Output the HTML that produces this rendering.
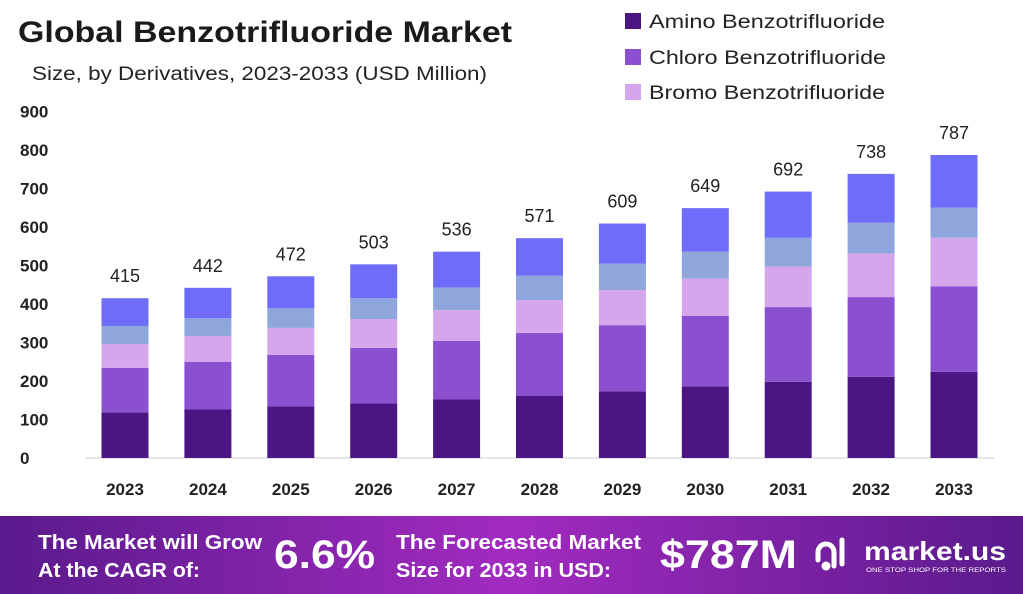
<!DOCTYPE html>
<html><head><meta charset="utf-8"><style>
body{margin:0;width:1023px;height:594px;overflow:hidden;background:#fff;font-family:"Liberation Sans",sans-serif}
</style></head><body>
<svg id="c" width="1023" height="594" style="position:absolute;left:0;top:0">
<defs><linearGradient id="bg" x1="0" x2="1" y1="0" y2="0"><stop offset="0" stop-color="#5a1a8c"/><stop offset="0.5" stop-color="#a22bc0"/><stop offset="1" stop-color="#5a1a8c"/></linearGradient></defs>
<text x="18" y="42" font-size="30" font-weight="bold" fill="#1a1a1a" textLength="494" lengthAdjust="spacingAndGlyphs">Global Benzotrifluoride Market</text>
<text x="32" y="80" font-size="19" fill="#222" textLength="455" lengthAdjust="spacingAndGlyphs">Size, by Derivatives, 2023-2033 (USD Million)</text>
<g>
<rect x="625" y="13" width="16" height="16" fill="#4b1584"/><text x="649" y="28" font-size="19" fill="#222" textLength="236" lengthAdjust="spacingAndGlyphs">Amino Benzotrifluoride</text>
<rect x="625" y="49" width="16" height="16" fill="#8b50d0"/><text x="649" y="64" font-size="19" fill="#222" textLength="237" lengthAdjust="spacingAndGlyphs">Chloro Benzotrifluoride</text>
<rect x="625" y="84" width="16" height="16" fill="#d6a6ec"/><text x="649" y="99" font-size="19" fill="#222" textLength="236" lengthAdjust="spacingAndGlyphs">Bromo Benzotrifluoride</text>
</g>
<g id="plot"></g>
<rect x="0" y="516" width="1023" height="78" fill="url(#bg)"/>
<text x="38" y="549" font-size="20" font-weight="bold" fill="#fff" textLength="224" lengthAdjust="spacingAndGlyphs">The Market will Grow</text>
<text x="38" y="577" font-size="20" font-weight="bold" fill="#fff" textLength="162" lengthAdjust="spacingAndGlyphs">At the CAGR of:</text>
<text x="274" y="568" font-size="40" font-weight="bold" fill="#fff" textLength="101" lengthAdjust="spacingAndGlyphs">6.6%</text>
<text x="396" y="549" font-size="20" font-weight="bold" fill="#fff" textLength="245" lengthAdjust="spacingAndGlyphs">The Forecasted Market</text>
<text x="396" y="577" font-size="20" font-weight="bold" fill="#fff" textLength="215" lengthAdjust="spacingAndGlyphs">Size for 2033 in USD:</text>
<text x="660" y="568" font-size="40" font-weight="bold" fill="#fff" textLength="137" lengthAdjust="spacingAndGlyphs">$787M</text>
<g fill="none" stroke="#fff" stroke-width="5" stroke-linecap="round">
<path d="M818 560 v-8 a8 8 0 0 1 16 0 v14 M842 540 v24"/><circle cx="826" cy="566" r="2" fill="#fff"/>
</g>
<text x="864" y="560" font-size="26" font-weight="bold" fill="#fff" textLength="142" lengthAdjust="spacingAndGlyphs">market.us</text>
<text x="866" y="572" font-size="6" fill="#fff" textLength="140" lengthAdjust="spacingAndGlyphs">ONE STOP SHOP FOR THE REPORTS</text>
</svg>
<script>
const years=["2023","2024","2025","2026","2027","2028","2029","2030","2031","2032","2033"];
const totals=[415,442,472,503,536,571,609,649,692,738,787];
const amino=[118,126,134,142,152,162,173,186,198,211,224];
const chloro=[116,124,134,144,152,163,172,183,194,207,222];
const bromo=[62,67,70,75,80,85,91,97,105,113,126];
const seg4=[47,46,51,54,59,64,69,70,75,80,78];
const yTicks=[0,100,200,300,400,500,600,700,800,900];
const colors=["#4b1584","#8b50d0","#d6a6ec","#8ea6dc","#6e6cf8"];
const ns="http://www.w3.org/2000/svg",g=document.getElementById("plot");
const y0=458,pp=0.385;
function Y(v){return y0-v*pp}
function X(i){return 125+i*82.9}
function el(t,a){const e=document.createElementNS(ns,t);for(const k in a)e.setAttribute(k,a[k]);g.appendChild(e);return e}
yTicks.forEach(t=>{const e=el("text",{x:20,y:Y(t)+6,"font-size":17,"font-weight":"bold",fill:"#222"});e.textContent=t;

});
const ax=el("line",{x1:85,x2:995,y1:y0,y2:y0,stroke:"#ccc","stroke-width":1});


years.forEach((yr,i)=>{
 const rest=totals[i]-amino[i]-chloro[i]-bromo[i]-seg4[i];
 const vals=[amino[i],chloro[i],bromo[i],seg4[i],rest];let c=0;
 vals.forEach((v,j)=>{const r=el("rect",{x:X(i)-23.5,y:Y(c+v),width:47,height:v*pp,fill:colors[j]});c+=v;
 
 });
 const t=el("text",{x:X(i),y:Y(totals[i])-16,"font-size":18,fill:"#222","text-anchor":"middle"});t.textContent=totals[i];
 
 
 const l=el("text",{x:X(i),y:495,"font-size":17,"font-weight":"bold",fill:"#222","text-anchor":"middle"});l.textContent=yr;
 
 
});
</script>
</body></html>
